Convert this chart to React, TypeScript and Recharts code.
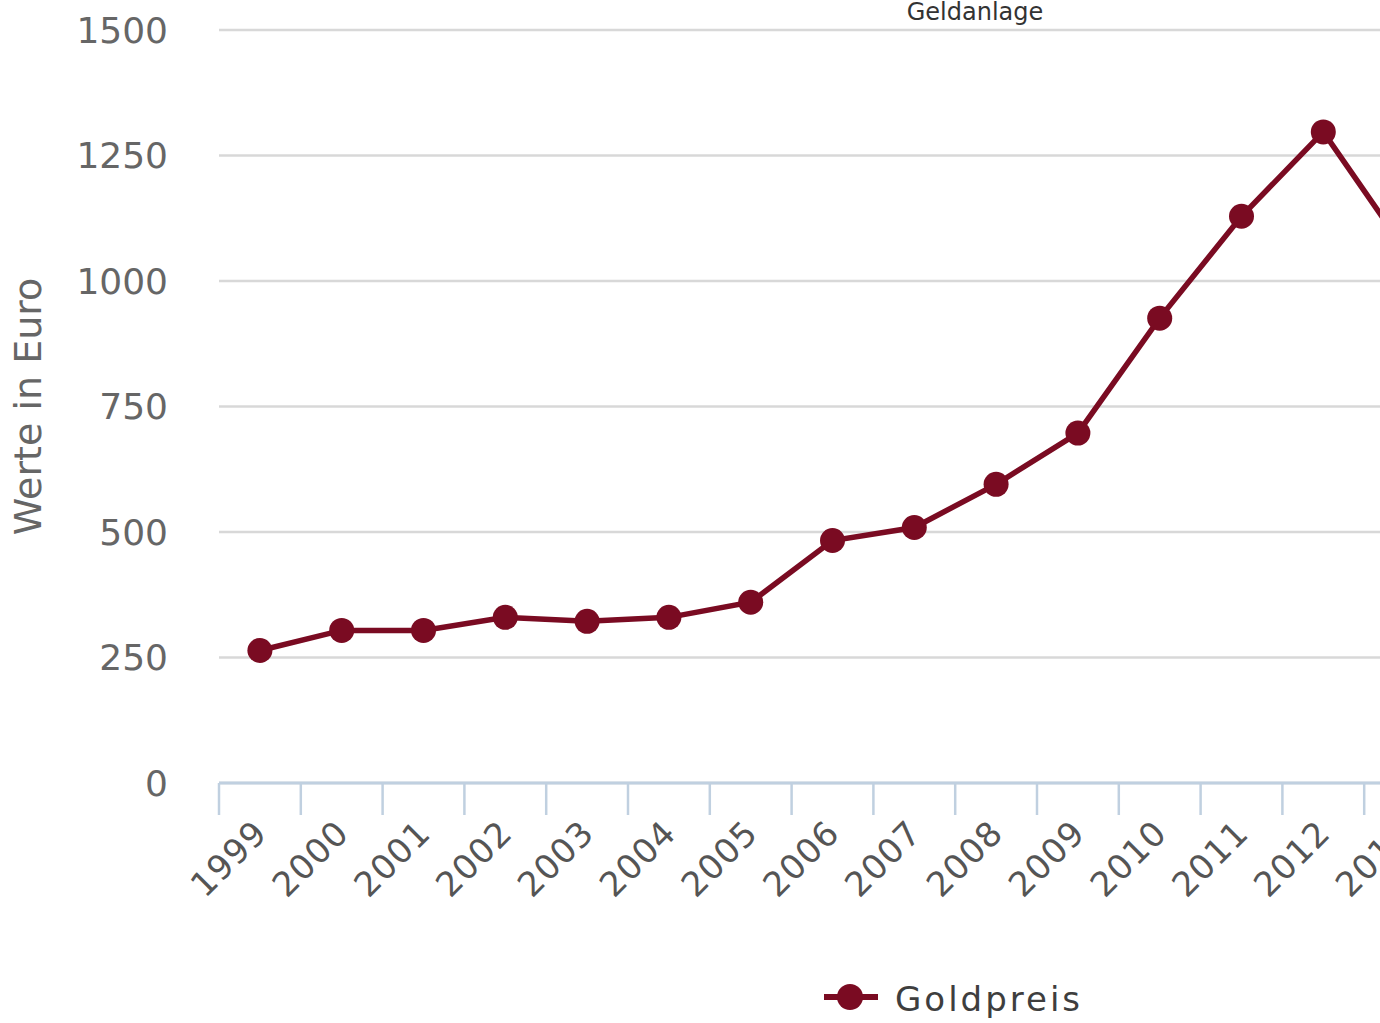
import React from 'react';
import { LineChart, Line, XAxis, YAxis, CartesianGrid, Legend } from 'recharts';

const years = ['1999', '2000', '2001', '2002', '2003', '2004', '2005', '2006', '2007', '2008', '2009', '2010', '2011', '2012', '2013'];
const goldpreis = [264, 304, 304, 330, 322, 330, 360, 483, 509, 595, 697, 926, 1129, 1297, 1062];
const yTicks = [0, 250, 500, 750, 1000, 1250, 1500];

const data = years.map((y, i) => ({ year: y, gold: goldpreis[i] }));

const RED = '#7a0b22';
const FONT = '"DejaVu Sans", Verdana, sans-serif';

const XTick = (props: any) => {
  const { x, y, payload } = props;
  const off = payload && payload.offset ? payload.offset : 0;
  const tx = x + 9;
  const ty = y + 20;
  return (
    <g>
      <line x1={x - off} y1={y - 32} x2={x - off} y2={y} stroke="#c0d0e0" strokeWidth={2.5} />
      <text
        x={tx}
        y={ty}
        textAnchor="end"
        fill="#555"
        fontSize={34}
        letterSpacing={1}
        fontFamily={FONT}
        transform={`rotate(-45 ${tx} ${ty})`}
      >
        {payload.value}
      </text>
    </g>
  );
};

const LegendContent = () => (
  <div style={{ width: '100%', height: 50, display: 'flex', justifyContent: 'center' }}>
    <svg width={262} height={50}>
      <line x1={0} y1={24} x2={54} y2={24} stroke={RED} strokeWidth={6} />
      <circle cx={26} cy={24} r={13} fill={RED} />
      <text x={71} y={38} fill="#3e3e3e" fontSize={34} letterSpacing={3} fontFamily={FONT}>
        Goldpreis
      </text>
    </svg>
  </div>
);

const YLabel = (props: any) => {
  const vb = props.viewBox || { x: 0, y: 0, width: 0, height: 0 };
  const cx = vb.x + 28;
  const cy = vb.y + vb.height / 2;
  return (
    <text
      x={cx}
      y={cy}
      textAnchor="middle"
      dominantBaseline="central"
      fill="#666"
      fontSize={38}
      fontFamily={FONT}
      transform={`rotate(-90 ${cx} ${cy})`}
    >
      Werte in Euro
    </text>
  );
};

export default function App() {
  return (
    <div
      style={{
        position: 'fixed',
        left: 0,
        top: 0,
        width: 1380,
        height: 1023,
        overflow: 'hidden',
        background: '#fff',
        fontFamily: FONT,
      }}
    >
      <div style={{ position: 'absolute', left: 0, top: 0 }}>
        <LineChart
          width={1930}
          height={1023}
          data={data}
          margin={{ top: 30, right: 484, left: 0, bottom: 0 }}
        >
          <text x={975} y={20} textAnchor="middle" fill="#333" fontSize={24} fontFamily={FONT}>
            Geldanlage
          </text>
          <CartesianGrid vertical={false} stroke="#d8d8d8" strokeWidth={2.5} />
          <XAxis
            dataKey="year"
            type="category"
            scale="band"
            height={190}
            axisLine={{ stroke: '#c0d0e0', strokeWidth: 3 }}
            tickLine={false}
            tickSize={32}
            tickMargin={0}
            tick={<XTick />}
            interval={0}
          />
          <YAxis
            width={219}
            domain={[0, 1500]}
            ticks={yTicks}
            axisLine={false}
            tickLine={false}
            tickSize={0}
            tickMargin={51}
            tick={{ fill: '#666', fontSize: 36, fontFamily: FONT }}
            label={<YLabel />}
          />
          <Legend
            verticalAlign="bottom"
            content={<LegendContent />}
            wrapperStyle={{ left: 0, width: 1910, bottom: 0, height: 50 }}
          />
          <Line
            dataKey="gold"
            name="Goldpreis"
            stroke={RED}
            strokeWidth={5.5}
            dot={{ r: 12.5, fill: RED, stroke: RED, strokeWidth: 0 }}
            activeDot={false}
            isAnimationActive={false}
          />
        </LineChart>
      </div>
    </div>
  );
}
